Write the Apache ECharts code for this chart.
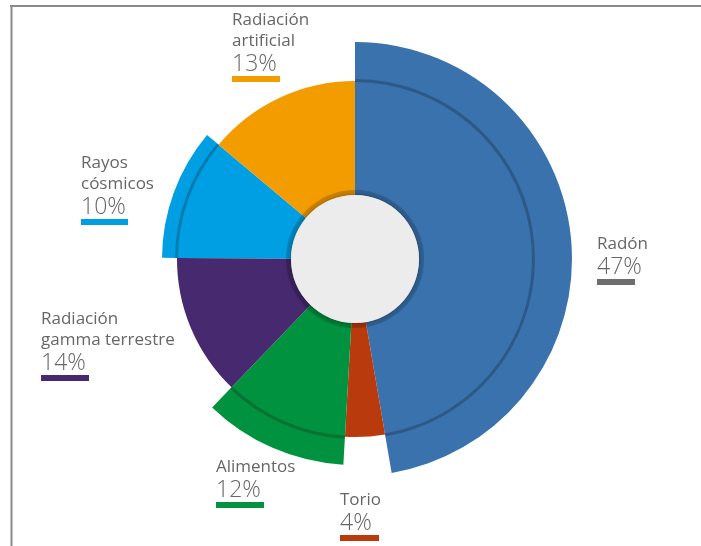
<!DOCTYPE html>
<html><head><meta charset="utf-8">
<script src="https://cdn.jsdelivr.net/npm/echarts@6/dist/echarts.min.js"></script>
<style>html,body{margin:0;padding:0;background:#fff}#c{width:701px;height:546px}</style>
</head><body><div id="c"></div>
<script>
// ---- data ----
const categories = ['Radón', 'Torio', 'Alimentos', 'Radiación gamma terrestre', 'Rayos cósmicos', 'Radiación artificial'];
// slice shares as drawn in the picture (angular share, %)
const values = [47.3, 3.6, 11.3, 12.9, 11.0, 13.9];
// percentages printed in the labels
const labelPercents = [47, 4, 12, 14, 10, 13];
const labelNames = ['Radón', 'Torio', 'Alimentos', 'Radiación\ngamma terrestre', 'Rayos\ncósmicos', 'Radiación\nartificial'];

// ---- styles / layout ----
const colors = ['#3a72ad', '#b93a0d', '#00923f', '#46296e', '#009fe3', '#f39c00'];
const barColors = ['#6e6e6e', '#b93a0d', '#00923f', '#46296e', '#009fe3', '#f39c00'];
const outerRadius = [217, null, 206, null, 193, null];
const labelPos = [[597, 234], [340, 490], [216, 457], [41, 309], [81, 153], [232, 10]];
const barWidths = [38, 39, 48, 48, 47, 48];
const CENTER = [355, 259];
const BASE = [64, 178];
const FONT = 'Open Sans';
const TEXT = '#666666';
const NONE = 'rgba(0,0,0,0)';

const series = [];

// bands (outer extensions)
outerRadius.forEach((r, k) => {
  if (!r) return;
  series.push({
    type: 'pie', center: CENTER, radius: [BASE[1] - 1, r], startAngle: 90, clockwise: true,
    silent: true, animation: false, z: 1, avoidLabelOverlap: false,
    label: { show: false }, labelLine: { show: false },
    data: categories.map((n, i) => ({ name: n, value: values[i],
      itemStyle: { color: i === k ? colors[i] : NONE, borderWidth: 0 } }))
  });
});

// base ring with labels
series.push({
  type: 'pie', center: CENTER, radius: BASE, startAngle: 90, clockwise: true,
  silent: true, animation: false, z: 2, avoidLabelOverlap: false,
  label: { show: true, position: 'outside' },
  labelLine: { show: false },
  labelLayout: p => ({ x: labelPos[p.dataIndex][0], y: labelPos[p.dataIndex][1], align: 'left', verticalAlign: 'top' }),
  data: categories.map((n, i) => ({
    name: n, value: values[i],
    itemStyle: { color: colors[i], borderWidth: 0 },
    label: {
      formatter: '{n|' + labelNames[i] + '}\n{p|' + labelPercents[i] + '%}\n{b|}',
      rich: {
        n: { fontFamily: FONT, fontSize: 17, lineHeight: 21, color: TEXT, align: 'left' },
        p: { fontFamily: FONT, fontSize: 23, fontWeight: 300, lineHeight: 24, color: TEXT, align: 'left' },
        b: { width: barWidths[i], height: 6, lineHeight: 6, backgroundColor: barColors[i], align: 'left' }
      }
    }
  }))
});

// dark edge line at base radius on banded slices
series.push({
  type: 'pie', center: CENTER, radius: [BASE[1] - 1, BASE[1] + 2], startAngle: 90, clockwise: true,
  silent: true, animation: false, z: 3,
  label: { show: false }, labelLine: { show: false },
  data: categories.map((n, i) => ({ name: n, value: values[i],
    itemStyle: { color: outerRadius[i] ? 'rgba(0,0,0,0.22)' : NONE, borderWidth: 0 } }))
});

// shadow ring round the center disc
series.push({
  type: 'pie', center: CENTER, radius: [BASE[0] - 1, BASE[0] + 5], silent: true, animation: false, z: 4,
  label: { show: false }, labelLine: { show: false },
  data: [{ name: 'sombra', value: 1, itemStyle: { color: 'rgba(0,0,0,0.17)', borderWidth: 0, shadowBlur: 3, shadowColor: 'rgba(0,0,0,0.15)' } }]
});

// center disc
series.push({
  type: 'pie', center: CENTER, radius: [0, BASE[0]], silent: true, animation: false, z: 5,
  label: { show: false }, labelLine: { show: false },
  data: [{ name: 'centro', value: 1, itemStyle: { color: '#ececec', borderWidth: 0, shadowBlur: 3, shadowColor: 'rgba(0,0,0,0.3)' } }]
});

const chart = echarts.init(document.getElementById('c'), null, { renderer: 'canvas' });
chart.setOption({
  animation: false,
  tooltip: { show: false },
  graphic: [
    { type: 'line', shape: { x1: 10, y1: 6, x2: 701, y2: 6 }, style: { stroke: '#8a8a8a', lineWidth: 2 }, silent: true },
    { type: 'line', shape: { x1: 11.5, y1: 5, x2: 11.5, y2: 546 }, style: { stroke: '#8a8a8a', lineWidth: 2 }, silent: true }
  ],
  series: series
});
</script>
</body></html>
